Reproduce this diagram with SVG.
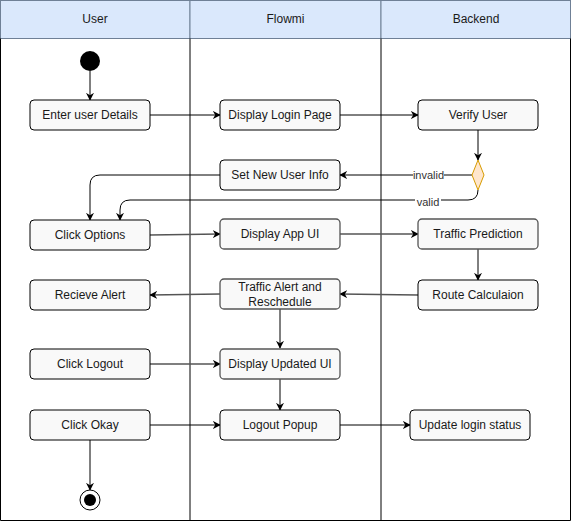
<svg xmlns="http://www.w3.org/2000/svg" width="571" height="522" viewBox="0 0 571 522">
<defs>
<marker id="arr" viewBox="0 0 10 10" refX="9" refY="5" markerWidth="8" markerHeight="8" markerUnits="userSpaceOnUse" orient="auto">
<path d="M0,0 L10,5 L0,10 L3,5 Z" fill="#000"/>
</marker>
</defs>
<style>
.hdr{fill:#dae8fc;stroke:#6f8096;stroke-width:1}
.lane{fill:none;stroke:#000;stroke-width:1}
.node rect{fill:#f9f9f9;stroke:#000;stroke-width:1}
.node.g rect{stroke:#555;stroke-width:1.3}
text{font-family:"Liberation Sans",Arial,sans-serif;font-size:12px;fill:#1a1a1a;text-anchor:middle;dominant-baseline:central}
.lbl{font-size:11px;fill:#333}
.c{fill:none;stroke:#000;stroke-width:1;marker-end:url(#arr)}
.cg{fill:none;stroke:#555;stroke-width:1.3;marker-end:url(#arr)}
.cn{fill:none;stroke:#000;stroke-width:1}
</style>
<g id="lanes">
<rect class="hdr" x="0.5" y="0.5" width="189.5" height="38"/>
<rect class="hdr" x="190" y="0.5" width="191" height="38"/>
<rect class="hdr" x="381" y="0.5" width="189.5" height="38"/>
<text x="95" y="19">User</text>
<text x="285.5" y="19">Flowmi</text>
<text x="476" y="19">Backend</text>
<path class="lane" d="M0.5,38.5 V520.5 H570.5 V38.5 M190,38.5 V520.5 M381,38.5 V520.5"/>
</g>
<g id="connectors">
<path class="c" d="M90,71 V100"/>
<path class="c" d="M150,115 H220"/>
<path class="c" d="M340,115 H418"/>
<path class="c" d="M478,130 V160"/>
<path class="c" d="M472,175 H340"/>
<path class="c" d="M220,175 H100 Q90,175 90,185 V220"/>
<path class="c" d="M478,190 Q478,200 468,200 H130 Q120,200 120,210 V220"/>
<path class="cg" d="M150,235 L220,234"/>
<path class="cg" d="M340,234 H418"/>
<path class="c" d="M478,249 V280"/>
<path class="cg" d="M418,295 L340,294"/>
<path class="cg" d="M220,294 L150,295"/>
<path class="c" d="M280,309 V348"/>
<path class="cg" d="M150,364 H220"/>
<path class="c" d="M280,379 V410"/>
<path class="c" d="M150,425 H220"/>
<path class="c" d="M340,425 H410"/>
<path class="c" d="M90,440 V490"/>
<rect x="413" y="168" width="31" height="14" fill="#fff"/>
<text class="lbl" x="428.5" y="175">invalid</text>
<rect x="415" y="195" width="26" height="14" fill="#fff"/>
<text class="lbl" x="428" y="202">valid</text>
</g>
<g id="start"><circle cx="90" cy="61" r="10" fill="#000"/></g>
<g id="n1" class="node"><rect x="30" y="100" width="120" height="30" rx="4"/><text x="90" y="115">Enter user Details</text></g>
<g id="n2" class="node"><rect x="220" y="100" width="120" height="30" rx="4"/><text x="280" y="115">Display Login Page</text></g>
<g id="n3" class="node"><rect x="418" y="100" width="120" height="30" rx="4"/><text x="478" y="115">Verify User</text></g>
<g id="decision"><path d="M478,160 L484,175 L478,190 L472,175 Z" fill="#ffe6cc" stroke="#d79b00" stroke-width="1"/></g>
<g id="n4" class="node"><rect x="220" y="160" width="120" height="30" rx="4"/><text x="280" y="175">Set New User Info</text></g>
<g id="n5" class="node"><rect x="30" y="220" width="120" height="30" rx="4"/><text x="90" y="235">Click Options</text></g>
<g id="n6" class="node g"><rect x="220" y="219" width="120" height="30" rx="4"/><text x="280" y="234">Display App UI</text></g>
<g id="n7" class="node g"><rect x="418" y="219" width="120" height="30" rx="4"/><text x="478" y="234">Traffic Prediction</text></g>
<g id="n8" class="node"><rect x="30" y="280" width="120" height="30" rx="4"/><text x="90" y="295">Recieve Alert</text></g>
<g id="n9" class="node g"><rect x="220" y="279" width="120" height="30" rx="4"/><text x="280" y="287">Traffic Alert and</text><text x="280" y="302">Reschedule</text></g>
<g id="n10" class="node"><rect x="418" y="280" width="120" height="30" rx="4"/><text x="478" y="295">Route Calculaion</text></g>
<g id="n11" class="node"><rect x="30" y="349" width="120" height="30" rx="4"/><text x="90" y="364">Click Logout</text></g>
<g id="n12" class="node g"><rect x="220" y="349" width="120" height="30" rx="4"/><text x="280" y="364">Display Updated UI</text></g>
<g id="n13" class="node"><rect x="30" y="410" width="120" height="30" rx="4"/><text x="90" y="425">Click Okay</text></g>
<g id="n14" class="node"><rect x="220" y="410" width="120" height="30" rx="4"/><text x="280" y="425">Logout Popup</text></g>
<g id="n15" class="node"><rect x="410" y="410" width="120" height="30" rx="4"/><text x="470" y="425">Update login status</text></g>
<g id="end"><circle cx="90" cy="500" r="10" fill="#fff" stroke="#000" stroke-width="1"/><circle cx="90" cy="500" r="6" fill="#000"/></g>
</svg>
